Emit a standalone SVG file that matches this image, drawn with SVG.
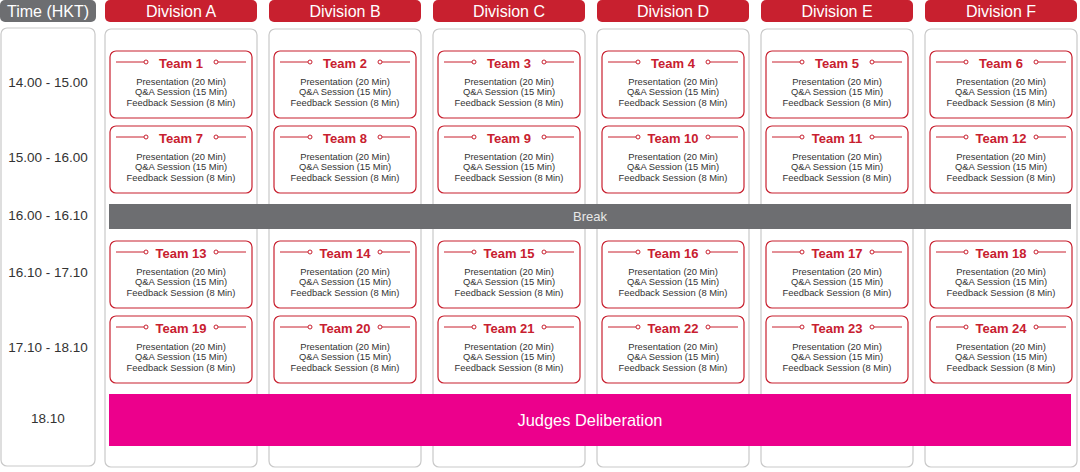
<svg xmlns="http://www.w3.org/2000/svg" width="1080" height="472" viewBox="0 0 1080 472">
<style>
.hdr{fill:#c8202f}
.thdr{fill:#6d6e71}
.htxt{font-family:"Liberation Sans",Arial,sans-serif;font-size:16px;fill:#fff;text-anchor:middle}
.col{fill:#fff;stroke:#c9c9c9;stroke-width:1.2}
.card{fill:#fff;stroke:#c8202f;stroke-width:1.2}
.ttl{font-family:"Liberation Sans",Arial,sans-serif;font-size:13px;font-weight:bold;fill:#c8202f;text-anchor:middle}
.body{font-family:"Liberation Sans",Arial,sans-serif;font-size:9.4px;fill:#333;text-anchor:middle}
.dl{stroke:#c8202f;stroke-width:1}
.dc{fill:#fff;stroke:#c8202f;stroke-width:1}
.time{font-family:"Liberation Sans",Arial,sans-serif;font-size:13.5px;fill:#333;text-anchor:middle}
.brk{fill:#6d6e71}
.brktxt{font-family:"Liberation Sans",Arial,sans-serif;font-size:13px;fill:#e8e8e8;text-anchor:middle}
.jd{fill:#ec008c}
.jdtxt{font-family:"Liberation Sans",Arial,sans-serif;font-size:16.4px;fill:#fff;text-anchor:middle}
</style>
<rect width="1080" height="472" fill="#fff"/>
<g id="time-column">
<rect class="thdr" x="0" y="0" width="96" height="22" rx="5"/>
<text class="htxt" x="48" y="17">Time (HKT)</text>
<rect class="col" x="1" y="28" width="94" height="438" rx="6"/>
<text class="time" x="48" y="87">14.00 - 15.00</text>
<text class="time" x="48" y="162">15.00 - 16.00</text>
<text class="time" x="48" y="220">16.00 - 16.10</text>
<text class="time" x="48" y="277">16.10 - 17.10</text>
<text class="time" x="48" y="352">17.10 - 18.10</text>
<text class="time" x="48" y="423">18.10</text>
</g>
<g id="division-a"><rect class="hdr" x="105" y="0" width="152" height="22" rx="5"/><text class="htxt" x="181" y="17">Division A</text><rect class="col" x="105" y="29" width="152" height="438" rx="6"/></g>
<g id="division-b"><rect class="hdr" x="269" y="0" width="152" height="22" rx="5"/><text class="htxt" x="345" y="17">Division B</text><rect class="col" x="269" y="29" width="152" height="438" rx="6"/></g>
<g id="division-c"><rect class="hdr" x="433" y="0" width="152" height="22" rx="5"/><text class="htxt" x="509" y="17">Division C</text><rect class="col" x="433" y="29" width="152" height="438" rx="6"/></g>
<g id="division-d"><rect class="hdr" x="597" y="0" width="152" height="22" rx="5"/><text class="htxt" x="673" y="17">Division D</text><rect class="col" x="597" y="29" width="152" height="438" rx="6"/></g>
<g id="division-e"><rect class="hdr" x="761" y="0" width="152" height="22" rx="5"/><text class="htxt" x="837" y="17">Division E</text><rect class="col" x="761" y="29" width="152" height="438" rx="6"/></g>
<g id="division-f"><rect class="hdr" x="925" y="0" width="152" height="22" rx="5"/><text class="htxt" x="1001" y="17">Division F</text><rect class="col" x="925" y="29" width="152" height="438" rx="6"/></g>

<g id="team-1" transform="translate(110,51)"><rect class="card" x="0" y="0" width="142" height="67" rx="6"/><line class="dl" x1="6" y1="11" x2="34" y2="11"/><circle class="dc" cx="36" cy="11" r="2"/><circle class="dc" cx="106" cy="11" r="2"/><line class="dl" x1="108" y1="11" x2="136" y2="11"/><text class="ttl" x="71" y="16.5">Team 1</text><text class="body" x="71" y="33.5">Presentation (20 Min)</text><text class="body" x="71" y="44">Q&amp;A Session (15 Min)</text><text class="body" x="71" y="55">Feedback Session (8 Min)</text></g>
<g id="team-2" transform="translate(274,51)"><rect class="card" x="0" y="0" width="142" height="67" rx="6"/><line class="dl" x1="6" y1="11" x2="34" y2="11"/><circle class="dc" cx="36" cy="11" r="2"/><circle class="dc" cx="106" cy="11" r="2"/><line class="dl" x1="108" y1="11" x2="136" y2="11"/><text class="ttl" x="71" y="16.5">Team 2</text><text class="body" x="71" y="33.5">Presentation (20 Min)</text><text class="body" x="71" y="44">Q&amp;A Session (15 Min)</text><text class="body" x="71" y="55">Feedback Session (8 Min)</text></g>
<g id="team-3" transform="translate(438,51)"><rect class="card" x="0" y="0" width="142" height="67" rx="6"/><line class="dl" x1="6" y1="11" x2="34" y2="11"/><circle class="dc" cx="36" cy="11" r="2"/><circle class="dc" cx="106" cy="11" r="2"/><line class="dl" x1="108" y1="11" x2="136" y2="11"/><text class="ttl" x="71" y="16.5">Team 3</text><text class="body" x="71" y="33.5">Presentation (20 Min)</text><text class="body" x="71" y="44">Q&amp;A Session (15 Min)</text><text class="body" x="71" y="55">Feedback Session (8 Min)</text></g>
<g id="team-4" transform="translate(602,51)"><rect class="card" x="0" y="0" width="142" height="67" rx="6"/><line class="dl" x1="6" y1="11" x2="34" y2="11"/><circle class="dc" cx="36" cy="11" r="2"/><circle class="dc" cx="106" cy="11" r="2"/><line class="dl" x1="108" y1="11" x2="136" y2="11"/><text class="ttl" x="71" y="16.5">Team 4</text><text class="body" x="71" y="33.5">Presentation (20 Min)</text><text class="body" x="71" y="44">Q&amp;A Session (15 Min)</text><text class="body" x="71" y="55">Feedback Session (8 Min)</text></g>
<g id="team-5" transform="translate(766,51)"><rect class="card" x="0" y="0" width="142" height="67" rx="6"/><line class="dl" x1="6" y1="11" x2="34" y2="11"/><circle class="dc" cx="36" cy="11" r="2"/><circle class="dc" cx="106" cy="11" r="2"/><line class="dl" x1="108" y1="11" x2="136" y2="11"/><text class="ttl" x="71" y="16.5">Team 5</text><text class="body" x="71" y="33.5">Presentation (20 Min)</text><text class="body" x="71" y="44">Q&amp;A Session (15 Min)</text><text class="body" x="71" y="55">Feedback Session (8 Min)</text></g>
<g id="team-6" transform="translate(930,51)"><rect class="card" x="0" y="0" width="142" height="67" rx="6"/><line class="dl" x1="6" y1="11" x2="34" y2="11"/><circle class="dc" cx="36" cy="11" r="2"/><circle class="dc" cx="106" cy="11" r="2"/><line class="dl" x1="108" y1="11" x2="136" y2="11"/><text class="ttl" x="71" y="16.5">Team 6</text><text class="body" x="71" y="33.5">Presentation (20 Min)</text><text class="body" x="71" y="44">Q&amp;A Session (15 Min)</text><text class="body" x="71" y="55">Feedback Session (8 Min)</text></g>

<g id="team-7" transform="translate(110,126)"><rect class="card" x="0" y="0" width="142" height="67" rx="6"/><line class="dl" x1="6" y1="11" x2="34" y2="11"/><circle class="dc" cx="36" cy="11" r="2"/><circle class="dc" cx="106" cy="11" r="2"/><line class="dl" x1="108" y1="11" x2="136" y2="11"/><text class="ttl" x="71" y="16.5">Team 7</text><text class="body" x="71" y="33.5">Presentation (20 Min)</text><text class="body" x="71" y="44">Q&amp;A Session (15 Min)</text><text class="body" x="71" y="55">Feedback Session (8 Min)</text></g>
<g id="team-8" transform="translate(274,126)"><rect class="card" x="0" y="0" width="142" height="67" rx="6"/><line class="dl" x1="6" y1="11" x2="34" y2="11"/><circle class="dc" cx="36" cy="11" r="2"/><circle class="dc" cx="106" cy="11" r="2"/><line class="dl" x1="108" y1="11" x2="136" y2="11"/><text class="ttl" x="71" y="16.5">Team 8</text><text class="body" x="71" y="33.5">Presentation (20 Min)</text><text class="body" x="71" y="44">Q&amp;A Session (15 Min)</text><text class="body" x="71" y="55">Feedback Session (8 Min)</text></g>
<g id="team-9" transform="translate(438,126)"><rect class="card" x="0" y="0" width="142" height="67" rx="6"/><line class="dl" x1="6" y1="11" x2="34" y2="11"/><circle class="dc" cx="36" cy="11" r="2"/><circle class="dc" cx="106" cy="11" r="2"/><line class="dl" x1="108" y1="11" x2="136" y2="11"/><text class="ttl" x="71" y="16.5">Team 9</text><text class="body" x="71" y="33.5">Presentation (20 Min)</text><text class="body" x="71" y="44">Q&amp;A Session (15 Min)</text><text class="body" x="71" y="55">Feedback Session (8 Min)</text></g>
<g id="team-10" transform="translate(602,126)"><rect class="card" x="0" y="0" width="142" height="67" rx="6"/><line class="dl" x1="6" y1="11" x2="34" y2="11"/><circle class="dc" cx="36" cy="11" r="2"/><circle class="dc" cx="106" cy="11" r="2"/><line class="dl" x1="108" y1="11" x2="136" y2="11"/><text class="ttl" x="71" y="16.5">Team 10</text><text class="body" x="71" y="33.5">Presentation (20 Min)</text><text class="body" x="71" y="44">Q&amp;A Session (15 Min)</text><text class="body" x="71" y="55">Feedback Session (8 Min)</text></g>
<g id="team-11" transform="translate(766,126)"><rect class="card" x="0" y="0" width="142" height="67" rx="6"/><line class="dl" x1="6" y1="11" x2="34" y2="11"/><circle class="dc" cx="36" cy="11" r="2"/><circle class="dc" cx="106" cy="11" r="2"/><line class="dl" x1="108" y1="11" x2="136" y2="11"/><text class="ttl" x="71" y="16.5">Team 11</text><text class="body" x="71" y="33.5">Presentation (20 Min)</text><text class="body" x="71" y="44">Q&amp;A Session (15 Min)</text><text class="body" x="71" y="55">Feedback Session (8 Min)</text></g>
<g id="team-12" transform="translate(930,126)"><rect class="card" x="0" y="0" width="142" height="67" rx="6"/><line class="dl" x1="6" y1="11" x2="34" y2="11"/><circle class="dc" cx="36" cy="11" r="2"/><circle class="dc" cx="106" cy="11" r="2"/><line class="dl" x1="108" y1="11" x2="136" y2="11"/><text class="ttl" x="71" y="16.5">Team 12</text><text class="body" x="71" y="33.5">Presentation (20 Min)</text><text class="body" x="71" y="44">Q&amp;A Session (15 Min)</text><text class="body" x="71" y="55">Feedback Session (8 Min)</text></g>

<g id="break"><rect class="brk" x="109" y="204" width="962" height="25"/><text class="brktxt" x="590" y="220.5">Break</text></g>

<g id="team-13" transform="translate(110,241)"><rect class="card" x="0" y="0" width="142" height="67" rx="6"/><line class="dl" x1="6" y1="11" x2="34" y2="11"/><circle class="dc" cx="36" cy="11" r="2"/><circle class="dc" cx="106" cy="11" r="2"/><line class="dl" x1="108" y1="11" x2="136" y2="11"/><text class="ttl" x="71" y="16.5">Team 13</text><text class="body" x="71" y="33.5">Presentation (20 Min)</text><text class="body" x="71" y="44">Q&amp;A Session (15 Min)</text><text class="body" x="71" y="55">Feedback Session (8 Min)</text></g>
<g id="team-14" transform="translate(274,241)"><rect class="card" x="0" y="0" width="142" height="67" rx="6"/><line class="dl" x1="6" y1="11" x2="34" y2="11"/><circle class="dc" cx="36" cy="11" r="2"/><circle class="dc" cx="106" cy="11" r="2"/><line class="dl" x1="108" y1="11" x2="136" y2="11"/><text class="ttl" x="71" y="16.5">Team 14</text><text class="body" x="71" y="33.5">Presentation (20 Min)</text><text class="body" x="71" y="44">Q&amp;A Session (15 Min)</text><text class="body" x="71" y="55">Feedback Session (8 Min)</text></g>
<g id="team-15" transform="translate(438,241)"><rect class="card" x="0" y="0" width="142" height="67" rx="6"/><line class="dl" x1="6" y1="11" x2="34" y2="11"/><circle class="dc" cx="36" cy="11" r="2"/><circle class="dc" cx="106" cy="11" r="2"/><line class="dl" x1="108" y1="11" x2="136" y2="11"/><text class="ttl" x="71" y="16.5">Team 15</text><text class="body" x="71" y="33.5">Presentation (20 Min)</text><text class="body" x="71" y="44">Q&amp;A Session (15 Min)</text><text class="body" x="71" y="55">Feedback Session (8 Min)</text></g>
<g id="team-16" transform="translate(602,241)"><rect class="card" x="0" y="0" width="142" height="67" rx="6"/><line class="dl" x1="6" y1="11" x2="34" y2="11"/><circle class="dc" cx="36" cy="11" r="2"/><circle class="dc" cx="106" cy="11" r="2"/><line class="dl" x1="108" y1="11" x2="136" y2="11"/><text class="ttl" x="71" y="16.5">Team 16</text><text class="body" x="71" y="33.5">Presentation (20 Min)</text><text class="body" x="71" y="44">Q&amp;A Session (15 Min)</text><text class="body" x="71" y="55">Feedback Session (8 Min)</text></g>
<g id="team-17" transform="translate(766,241)"><rect class="card" x="0" y="0" width="142" height="67" rx="6"/><line class="dl" x1="6" y1="11" x2="34" y2="11"/><circle class="dc" cx="36" cy="11" r="2"/><circle class="dc" cx="106" cy="11" r="2"/><line class="dl" x1="108" y1="11" x2="136" y2="11"/><text class="ttl" x="71" y="16.5">Team 17</text><text class="body" x="71" y="33.5">Presentation (20 Min)</text><text class="body" x="71" y="44">Q&amp;A Session (15 Min)</text><text class="body" x="71" y="55">Feedback Session (8 Min)</text></g>
<g id="team-18" transform="translate(930,241)"><rect class="card" x="0" y="0" width="142" height="67" rx="6"/><line class="dl" x1="6" y1="11" x2="34" y2="11"/><circle class="dc" cx="36" cy="11" r="2"/><circle class="dc" cx="106" cy="11" r="2"/><line class="dl" x1="108" y1="11" x2="136" y2="11"/><text class="ttl" x="71" y="16.5">Team 18</text><text class="body" x="71" y="33.5">Presentation (20 Min)</text><text class="body" x="71" y="44">Q&amp;A Session (15 Min)</text><text class="body" x="71" y="55">Feedback Session (8 Min)</text></g>

<g id="team-19" transform="translate(110,316)"><rect class="card" x="0" y="0" width="142" height="67" rx="6"/><line class="dl" x1="6" y1="11" x2="34" y2="11"/><circle class="dc" cx="36" cy="11" r="2"/><circle class="dc" cx="106" cy="11" r="2"/><line class="dl" x1="108" y1="11" x2="136" y2="11"/><text class="ttl" x="71" y="16.5">Team 19</text><text class="body" x="71" y="33.5">Presentation (20 Min)</text><text class="body" x="71" y="44">Q&amp;A Session (15 Min)</text><text class="body" x="71" y="55">Feedback Session (8 Min)</text></g>
<g id="team-20" transform="translate(274,316)"><rect class="card" x="0" y="0" width="142" height="67" rx="6"/><line class="dl" x1="6" y1="11" x2="34" y2="11"/><circle class="dc" cx="36" cy="11" r="2"/><circle class="dc" cx="106" cy="11" r="2"/><line class="dl" x1="108" y1="11" x2="136" y2="11"/><text class="ttl" x="71" y="16.5">Team 20</text><text class="body" x="71" y="33.5">Presentation (20 Min)</text><text class="body" x="71" y="44">Q&amp;A Session (15 Min)</text><text class="body" x="71" y="55">Feedback Session (8 Min)</text></g>
<g id="team-21" transform="translate(438,316)"><rect class="card" x="0" y="0" width="142" height="67" rx="6"/><line class="dl" x1="6" y1="11" x2="34" y2="11"/><circle class="dc" cx="36" cy="11" r="2"/><circle class="dc" cx="106" cy="11" r="2"/><line class="dl" x1="108" y1="11" x2="136" y2="11"/><text class="ttl" x="71" y="16.5">Team 21</text><text class="body" x="71" y="33.5">Presentation (20 Min)</text><text class="body" x="71" y="44">Q&amp;A Session (15 Min)</text><text class="body" x="71" y="55">Feedback Session (8 Min)</text></g>
<g id="team-22" transform="translate(602,316)"><rect class="card" x="0" y="0" width="142" height="67" rx="6"/><line class="dl" x1="6" y1="11" x2="34" y2="11"/><circle class="dc" cx="36" cy="11" r="2"/><circle class="dc" cx="106" cy="11" r="2"/><line class="dl" x1="108" y1="11" x2="136" y2="11"/><text class="ttl" x="71" y="16.5">Team 22</text><text class="body" x="71" y="33.5">Presentation (20 Min)</text><text class="body" x="71" y="44">Q&amp;A Session (15 Min)</text><text class="body" x="71" y="55">Feedback Session (8 Min)</text></g>
<g id="team-23" transform="translate(766,316)"><rect class="card" x="0" y="0" width="142" height="67" rx="6"/><line class="dl" x1="6" y1="11" x2="34" y2="11"/><circle class="dc" cx="36" cy="11" r="2"/><circle class="dc" cx="106" cy="11" r="2"/><line class="dl" x1="108" y1="11" x2="136" y2="11"/><text class="ttl" x="71" y="16.5">Team 23</text><text class="body" x="71" y="33.5">Presentation (20 Min)</text><text class="body" x="71" y="44">Q&amp;A Session (15 Min)</text><text class="body" x="71" y="55">Feedback Session (8 Min)</text></g>
<g id="team-24" transform="translate(930,316)"><rect class="card" x="0" y="0" width="142" height="67" rx="6"/><line class="dl" x1="6" y1="11" x2="34" y2="11"/><circle class="dc" cx="36" cy="11" r="2"/><circle class="dc" cx="106" cy="11" r="2"/><line class="dl" x1="108" y1="11" x2="136" y2="11"/><text class="ttl" x="71" y="16.5">Team 24</text><text class="body" x="71" y="33.5">Presentation (20 Min)</text><text class="body" x="71" y="44">Q&amp;A Session (15 Min)</text><text class="body" x="71" y="55">Feedback Session (8 Min)</text></g>

<g id="judges-deliberation"><rect class="jd" x="109" y="394" width="962" height="52"/><text class="jdtxt" x="590" y="425.5">Judges Deliberation</text></g>
<g id="connectors"></g>
</svg>
